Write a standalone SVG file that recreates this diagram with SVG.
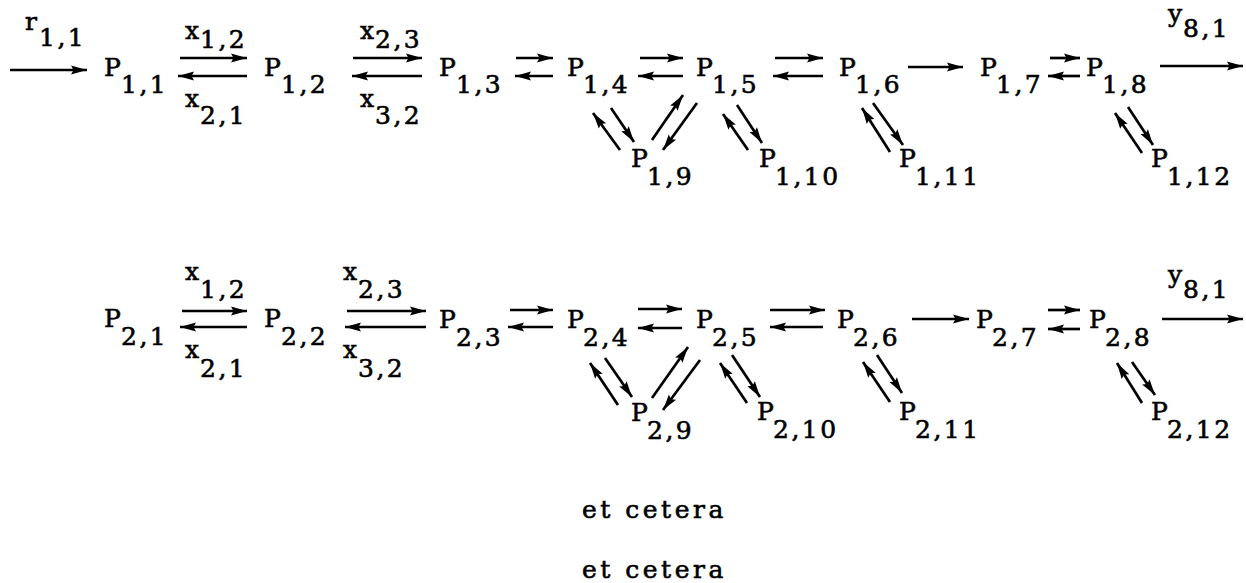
<svg xmlns="http://www.w3.org/2000/svg" width="1246" height="583" viewBox="0 0 1246 583">
<defs>
<marker id="ah" markerUnits="userSpaceOnUse" markerWidth="18" markerHeight="10" refX="16" refY="4.5" orient="auto" overflow="visible">
<path d="M0,0 L16,4.5 L0,9 L2.5,4.5 z" fill="#000"/>
</marker>
<style>
text{font-family:"DejaVu Serif","Liberation Serif",serif;font-size:25px;letter-spacing:2.5px;fill:#000;stroke:#000;stroke-width:0.6}
text.etc{letter-spacing:3.5px}
line{stroke:#000;stroke-width:2.7;marker-end:url(#ah)}
</style>
</defs>
<rect width="1246" height="583" fill="#fff"/>
<g id="labels">
<g id="r11"><text x="25" y="30">r</text><text x="39" y="46">1,1</text></g>
<g id="x12a"><text x="185" y="39">x</text><text x="200" y="48">1,2</text></g>
<g id="x21a"><text x="185" y="107">x</text><text x="200" y="124">2,1</text></g>
<g id="x23a"><text x="360" y="39">x</text><text x="375" y="48">2,3</text></g>
<g id="x32a"><text x="360" y="107">x</text><text x="375" y="124">3,2</text></g>
<g id="y81a"><text x="1168" y="22">y</text><text x="1183" y="37">8,1</text></g>
<g id="x12b"><text x="185" y="280">x</text><text x="200" y="298">1,2</text></g>
<g id="x21b"><text x="185" y="358">x</text><text x="200" y="377">2,1</text></g>
<g id="x23b"><text x="343" y="280">x</text><text x="358" y="298">2,3</text></g>
<g id="x32b"><text x="343" y="358">x</text><text x="358" y="377">3,2</text></g>
<g id="y81b"><text x="1168" y="283">y</text><text x="1183" y="298">8,1</text></g>
</g>
<g id="P1_1"><text x="104" y="76">P</text><text x="121" y="93">1,1</text></g>
<g id="P1_2"><text x="264" y="76">P</text><text x="281" y="93">1,2</text></g>
<g id="P1_3"><text x="439" y="76">P</text><text x="456" y="93">1,3</text></g>
<g id="P1_4"><text x="567" y="76">P</text><text x="583" y="93">1,4</text></g>
<g id="P1_5"><text x="696" y="76">P</text><text x="712" y="93">1,5</text></g>
<g id="P1_6"><text x="839" y="76">P</text><text x="855" y="93">1,6</text></g>
<g id="P1_7"><text x="980" y="76">P</text><text x="996" y="93">1,7</text></g>
<g id="P1_8"><text x="1086" y="76">P</text><text x="1102" y="93">1,8</text></g>
<g id="P1_9"><text x="631" y="167">P</text><text x="647" y="185">1,9</text></g>
<g id="P1_10"><text x="759" y="167">P</text><text x="775" y="185">1,10</text></g>
<g id="P1_11"><text x="899" y="167">P</text><text x="915" y="185">1,11</text></g>
<g id="P1_12"><text x="1151" y="167">P</text><text x="1167" y="185">1,12</text></g>
<g id="P2_1"><text x="104" y="327">P</text><text x="121" y="345">2,1</text></g>
<g id="P2_2"><text x="264" y="327">P</text><text x="281" y="345">2,2</text></g>
<g id="P2_3"><text x="439" y="328">P</text><text x="456" y="346">2,3</text></g>
<g id="P2_4"><text x="567" y="328">P</text><text x="583" y="346">2,4</text></g>
<g id="P2_5"><text x="696" y="328">P</text><text x="712" y="346">2,5</text></g>
<g id="P2_6"><text x="837" y="328">P</text><text x="853" y="346">2,6</text></g>
<g id="P2_7"><text x="976" y="328">P</text><text x="992" y="346">2,7</text></g>
<g id="P2_8"><text x="1089" y="328">P</text><text x="1105" y="346">2,8</text></g>
<g id="P2_9"><text x="631" y="421">P</text><text x="647" y="439">2,9</text></g>
<g id="P2_10"><text x="757" y="420">P</text><text x="773" y="438">2,10</text></g>
<g id="P2_11"><text x="899" y="420">P</text><text x="915" y="438">2,11</text></g>
<g id="P2_12"><text x="1151" y="420">P</text><text x="1167" y="438">2,12</text></g>
<g id="etc"><text class="etc" x="582" y="518">et cetera</text><text class="etc" x="582" y="578">et cetera</text></g>
<g id="connectors">
<line x1="10" y1="70" x2="87" y2="70"/>
<line x1="180" y1="58" x2="247" y2="58"/>
<line x1="247" y1="76" x2="178" y2="76"/>
<line x1="353" y1="58" x2="422" y2="58"/>
<line x1="422" y1="76" x2="352" y2="76"/>
<line x1="516" y1="58" x2="553" y2="58"/>
<line x1="553" y1="76" x2="515" y2="76"/>
<line x1="640" y1="58" x2="683" y2="58"/>
<line x1="683" y1="76" x2="638" y2="76"/>
<line x1="775" y1="58" x2="823" y2="58"/>
<line x1="823" y1="76" x2="773" y2="76"/>
<line x1="908" y1="67" x2="963" y2="67"/>
<line x1="1050" y1="58" x2="1080" y2="58"/>
<line x1="1080" y1="76" x2="1048" y2="76"/>
<line x1="1160" y1="66" x2="1243" y2="66"/>
<line x1="611" y1="108" x2="634" y2="142"/>
<line x1="620" y1="150" x2="593" y2="113"/>
<line x1="652" y1="140" x2="683" y2="95"/>
<line x1="697" y1="103" x2="663" y2="150"/>
<line x1="748" y1="150" x2="723" y2="114"/>
<line x1="737" y1="105" x2="762" y2="143"/>
<line x1="873" y1="103" x2="903" y2="145"/>
<line x1="890" y1="152" x2="862" y2="108"/>
<line x1="1128" y1="107" x2="1153" y2="145"/>
<line x1="1142" y1="153" x2="1115" y2="113"/>
<line x1="182" y1="311" x2="247" y2="311"/>
<line x1="247" y1="327" x2="180" y2="327"/>
<line x1="347" y1="311" x2="426" y2="311"/>
<line x1="426" y1="327" x2="345" y2="327"/>
<line x1="510" y1="310" x2="553" y2="310"/>
<line x1="553" y1="327" x2="508" y2="327"/>
<line x1="638" y1="309" x2="682" y2="309"/>
<line x1="682" y1="328" x2="638" y2="328"/>
<line x1="770" y1="310" x2="825" y2="310"/>
<line x1="823" y1="327" x2="770" y2="327"/>
<line x1="912" y1="319" x2="969" y2="319"/>
<line x1="1048" y1="310" x2="1080" y2="310"/>
<line x1="1080" y1="329" x2="1048" y2="329"/>
<line x1="1162" y1="319" x2="1243" y2="319"/>
<line x1="605" y1="358" x2="632" y2="397"/>
<line x1="618" y1="405" x2="590" y2="363"/>
<line x1="652" y1="398" x2="688" y2="347"/>
<line x1="700" y1="360" x2="663" y2="410"/>
<line x1="747" y1="403" x2="720" y2="363"/>
<line x1="732" y1="355" x2="760" y2="397"/>
<line x1="877" y1="355" x2="902" y2="393"/>
<line x1="890" y1="402" x2="863" y2="362"/>
<line x1="1132" y1="362" x2="1155" y2="395"/>
<line x1="1142" y1="403" x2="1117" y2="363"/>
</g>
</svg>
